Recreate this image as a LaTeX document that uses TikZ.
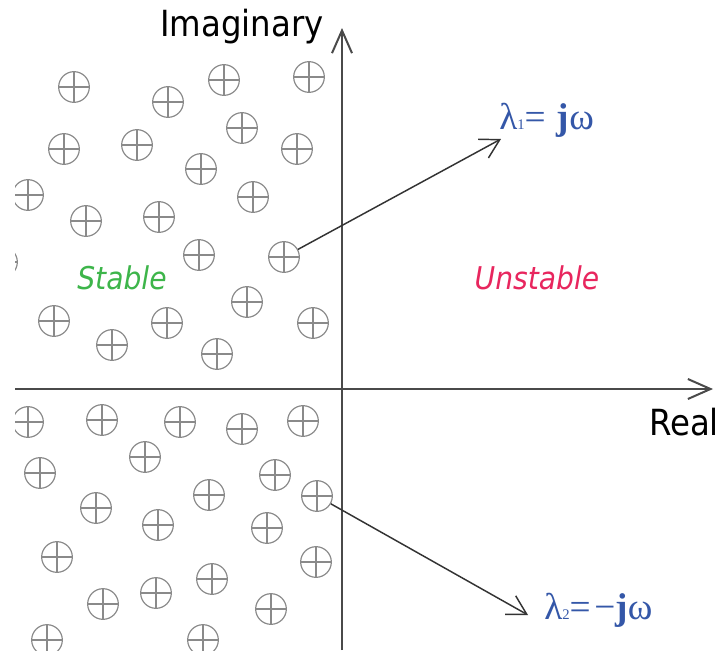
\documentclass[tikz,border=0pt]{standalone}
\usepackage{fontspec}
\setmainfont{Liberation Serif}
\newfontfamily\axfont[FakeStretch=0.9]{DejaVu Sans}
\usetikzlibrary{arrows.meta}
\definecolor{polegray}{HTML}{8A8A8A}
\definecolor{axisgray}{HTML}{4A4A4A}
\definecolor{arrgray}{HTML}{333333}
\definecolor{stgreen}{HTML}{3DB54A}
\definecolor{unred}{HTML}{E8265E}
\definecolor{lamblue}{HTML}{3457A8}
\begin{document}
\begin{tikzpicture}[x=0.75pt,y=-0.75pt,
  pole/.style={circle,draw=polegray,line width=0.9pt,minimum size=23pt,inner sep=0pt,
    path picture={\draw[polegray,line width=0.8pt]
      (path picture bounding box.north)--(path picture bounding box.south)
      (path picture bounding box.west)--(path picture bounding box.east);}},
  axisline/.style={draw=axisgray,line width=1.5pt,-{Straight Barb[length=17pt,width=15pt]}},
  eigarrow/.style={draw=arrgray,line width=1.1pt,-{Straight Barb[length=14pt,width=16pt]}},
  axlabel/.style={font=\axfont\fontsize{27pt}{30pt}\selectfont,text=black,inner sep=0pt,anchor=base},
  region/.style={font=\axfont\itshape\fontsize{23.5pt}{26pt}\selectfont,inner sep=0pt,anchor=base},
  eig/.style={font=\fontsize{28pt}{30pt}\selectfont,text=lamblue,inner sep=0pt,anchor=base west}]
\useasboundingbox (0,0) rectangle (724,650);
\fill[white] (0,0) rectangle (724,650);
\begin{scope}
\clip (15,0) rectangle (724,650);
% upper half-plane poles
\node[pole] (a1) at (74,87) {};
\node[pole] (a2) at (168,102) {};
\node[pole] (a3) at (224,80) {};
\node[pole] (a4) at (309,77) {};
\node[pole] (a5) at (64,149) {};
\node[pole] (a6) at (137,145) {};
\node[pole] (a7) at (242,128) {};
\node[pole] (a8) at (297,149) {};
\node[pole] (a9) at (201,169) {};
\node[pole] (a10) at (28,195) {};
\node[pole] (a11) at (86,221) {};
\node[pole] (a12) at (159,217) {};
\node[pole] (a13) at (253,197) {};
\node[pole] (a14) at (199,255) {};
\node[pole] (a15) at (284,257) {};
\node[pole] (a16) at (2,262) {};
\node[pole] (a17) at (54,321) {};
\node[pole] (a18) at (112,345) {};
\node[pole] (a19) at (167,323) {};
\node[pole] (a20) at (247,302) {};
\node[pole] (a21) at (313,323) {};
\node[pole] (a22) at (217,354) {};
% lower half-plane poles
\node[pole] (b1) at (28,422) {};
\node[pole] (b2) at (102,420) {};
\node[pole] (b3) at (180,422) {};
\node[pole] (b4) at (242,429) {};
\node[pole] (b5) at (303,421) {};
\node[pole] (b6) at (145,457) {};
\node[pole] (b7) at (40,473) {};
\node[pole] (b8) at (275,475) {};
\node[pole] (b9) at (317,496) {};
\node[pole] (b10) at (209,495) {};
\node[pole] (b11) at (96,508) {};
\node[pole] (b12) at (158,525) {};
\node[pole] (b13) at (267,528) {};
\node[pole] (b14) at (57,557) {};
\node[pole] (b15) at (316,562) {};
\node[pole] (b16) at (212,579) {};
\node[pole] (b17) at (156,593) {};
\node[pole] (b18) at (103,604) {};
\node[pole] (b19) at (271,609) {};
\node[pole] (b20) at (47,640) {};
\node[pole] (b21) at (203,640) {};
\end{scope}
% axes
\coordinate (ybot) at (342,650);
\coordinate (ytop) at (342,28);
\coordinate (xleft) at (15,389);
\coordinate (xright) at (713,389);
\draw[axisline] (ybot) -- (ytop);
\draw[axisline] (xleft) -- (xright);
\node[axlabel] (imag) at (242,36) {Imaginary};
\node[axlabel] (real) at (684,435) {Real};
\node[region,text=stgreen] (stable) at (122,289) {Stable};
\node[region,text=unred] (unstable) at (537,289) {Unstable};
% eigenvalue arrows
\coordinate (t1) at (501,139);
\coordinate (t2) at (528,615);
\draw[eigarrow] (a15) -- (t1);
\draw[eigarrow] (b9) -- (t2);
\node[eig] (l1) at (499,129) {λ{\fontsize{11pt}{12pt}\selectfont 1}=\hspace{0.3em}\textbf{j}ω};
\node[eig] (l2) at (544,619) {λ{\fontsize{11pt}{12pt}\selectfont 2}=\hspace{0.1em}−\textbf{j}ω};
\end{tikzpicture}
\end{document}
